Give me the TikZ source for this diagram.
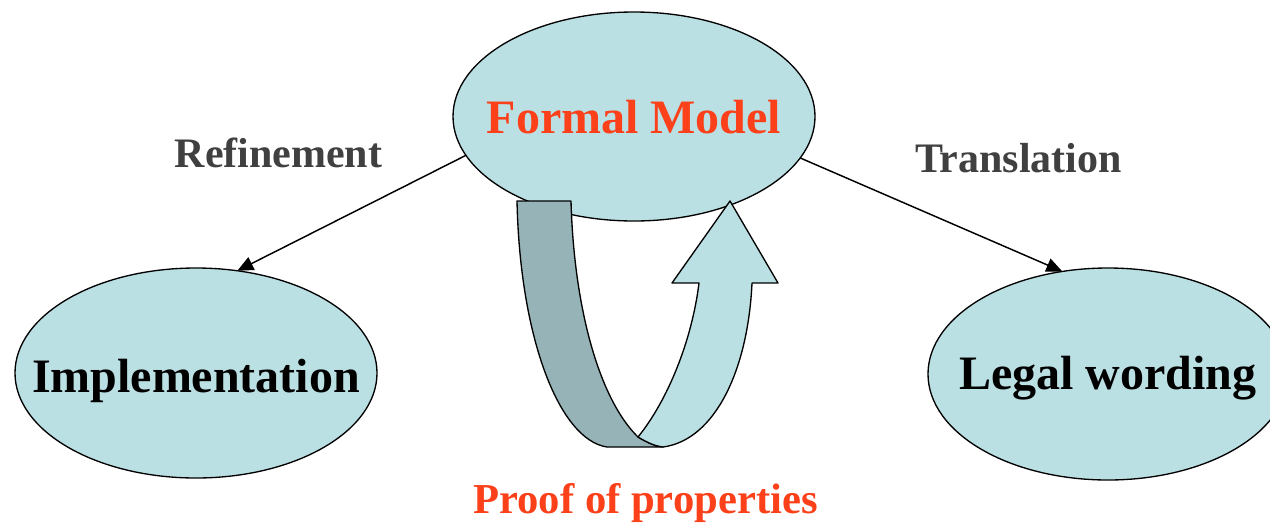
\documentclass[tikz,border=0pt]{standalone}
\usepackage{fontspec}
\setmainfont{Liberation Serif}
\usetikzlibrary{shapes.geometric,arrows.meta}
\definecolor{lightfill}{RGB}{187,224,228}
\definecolor{darkband}{RGB}{150,179,184}
\definecolor{redtext}{RGB}{252,64,25}
\definecolor{graytext}{RGB}{64,64,64}
\begin{document}
\begin{tikzpicture}[x=0.75pt,y=-0.75pt,
  bubble/.style={ellipse,draw=black,line width=1pt,fill=lightfill,inner sep=0pt,outer sep=0pt,
    font=\fontsize{36}{40}\selectfont\bfseries,text depth=0pt},
  conn/.style={line width=1.1pt,-{Triangle[length=12pt,width=10.5pt]}},
  lbl/.style={font=\fontsize{31.5}{36}\selectfont\bfseries,text=graytext,anchor=base,inner sep=0pt},
  band/.style={draw=black,line width=1pt,line join=round}]
\useasboundingbox (0,0) rectangle (1270,522);
\clip (0,0) rectangle (1270,522);
\node[bubble,minimum width=271.5pt,minimum height=157.5pt,text height=28.5pt] (impl) at (196,373) {\makebox[0pt]{Implementation}};
\node[bubble,minimum width=270pt,minimum height=159pt,text height=22.5pt] (legal) at (1108,374) {\makebox[0pt]{Legal wording}};
\node[bubble,minimum width=271.5pt,minimum height=156.75pt,text height=24.75pt,text=redtext] (fm) at (634,116.5) {\makebox[0pt]{Formal Model}};
% U-turn arrow: dark back band
\path[band,fill=darkband] (517,201) -- (571,201)
  .. controls (574,310) and (600,400) .. (638,437)
  .. controls (648,443) and (655,446) .. (663,447)
  -- (607,447)
  .. controls (560,440) and (520,340) .. (517,201) -- cycle;
% light front band with head
\path[band,fill=lightfill] (638,437)
  .. controls (668,400) and (692,340) .. (699,283)
  -- (672,283) -- (730,201) -- (778,283) -- (752,283)
  .. controls (748,370) and (715,440) .. (663,447)
  .. controls (655,446) and (648,443) .. (638,437) -- cycle;
\draw[conn] (fm.193) -- (impl.68.7);
\draw[conn] (fm.346.8) -- (legal.114.5);
\node[lbl] (refine) at (278.5,167) {Refinement};
\node[lbl] (transl) at (1018.5,172) {Translation};
\node[lbl,text=redtext,font=\fontsize{32}{36}\selectfont\bfseries] (proof) at (645.5,513) {Proof of properties};
\end{tikzpicture}
\end{document}
